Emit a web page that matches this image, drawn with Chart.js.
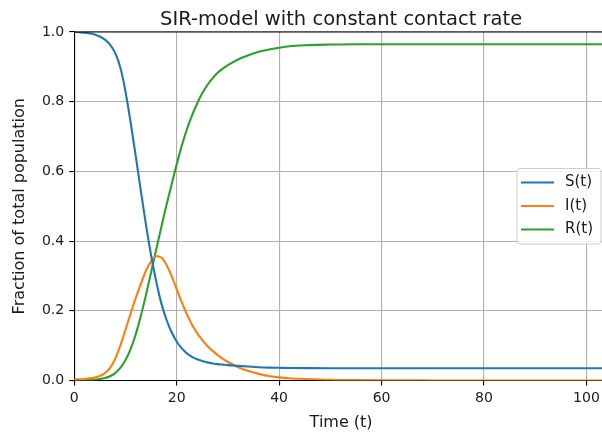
<!DOCTYPE html>
<html>
<head>
<meta charset="utf-8">
<script src="https://cdn.jsdelivr.net/npm/chart.js@4/dist/chart.umd.min.js"></script>
<style>
    html, body { margin: 0; padding: 0; background: #fff; overflow: hidden; }
    #sirPlot { display: block; }
</style>
</head>
<body>
<canvas id="sirPlot" width="610" height="437"></canvas>
<script>
// Time points and compartment fractions
var times = [0, 1, 2, 3, 4, 5, 6, 7, 8, 9, 10, 11, 12, 13, 14, 15, 16, 17, 18, 19, 20,
             21, 22, 23, 24, 25, 26, 27, 28, 29, 30, 32, 34, 36, 38, 40, 42, 45, 50, 55,
             60, 70, 80, 90, 100, 105];
var susceptible = [1.000, 0.9995, 0.998, 0.996, 0.993, 0.987, 0.978, 0.964, 0.940, 0.898, 0.830,
                   0.742, 0.645, 0.545, 0.448, 0.360, 0.285, 0.222, 0.175, 0.139, 0.112,
                   0.092, 0.078, 0.068, 0.061, 0.056, 0.052, 0.049, 0.047, 0.0455, 0.044,
                   0.042, 0.040, 0.038, 0.037, 0.0365, 0.036, 0.0355, 0.035, 0.035,
                   0.035, 0.035, 0.035, 0.035, 0.035, 0.035];
var infected = [0.003, 0.0035, 0.0045, 0.006, 0.0085, 0.013, 0.021, 0.036, 0.062, 0.100, 0.145,
                0.192, 0.236, 0.277, 0.315, 0.342, 0.357, 0.353, 0.332, 0.300, 0.262,
                0.224, 0.190, 0.160, 0.136, 0.116, 0.099, 0.085, 0.073, 0.062, 0.053,
                0.038, 0.027, 0.019, 0.013, 0.009, 0.0065, 0.0045, 0.002, 0.001,
                0.0005, 0.0002, 0.0001, 0, 0, 0];
var recovered = [0, 0.0005, 0.001, 0.0015, 0.0025, 0.004, 0.007, 0.012, 0.021, 0.036, 0.058,
                 0.090, 0.132, 0.185, 0.245, 0.310, 0.376, 0.440, 0.503, 0.562, 0.620,
                 0.674, 0.721, 0.761, 0.795, 0.824, 0.848, 0.867, 0.883, 0.895, 0.905,
                 0.921, 0.933, 0.943, 0.950, 0.955, 0.959, 0.962, 0.964, 0.965,
                 0.965, 0.965, 0.965, 0.965, 0.965, 0.965];

var timeTicks = [0, 20, 40, 60, 80, 100];
var fractionTicks = [0, 0.2, 0.4, 0.6, 0.8, 1.0];

var seriesNames = ['S(t)', 'I(t)', 'R(t)'];
var seriesColors = ['#1f77b4', '#ff7f0e', '#2ca02c'];

var FONT = 'DejaVu Sans';
var TEXT = '#1a1a1a';

function toPoints(values) {
    return times.map(function(t, i) { return {x: t, y: values[i]}; });
}

function makeDataset(idx, values) {
    return {
        label: seriesNames[idx],
        data: toPoints(values),
        borderColor: seriesColors[idx],
        backgroundColor: seriesColors[idx],
        borderWidth: 2.1,
        pointRadius: 0,
        cubicInterpolationMode: 'monotone',
        fill: false
    };
}

function fixedTicks(values) {
    return function(scale) {
        scale.ticks = values.map(function(v) { return {value: v}; });
    };
}

// Top/right spines, title and the boxed legend inside the axes
var framePlugin = {
    id: 'frame',
    afterDatasetsDraw: function(chart) {
        var ctx = chart.ctx;
        var area = chart.chartArea;
        ctx.save();
        ctx.strokeStyle = '#000';
        ctx.lineWidth = 1.1;
        ctx.beginPath();
        ctx.moveTo(area.left, area.top);
        ctx.lineTo(area.right, area.top);
        ctx.lineTo(area.right, area.bottom);
        ctx.stroke();

        // title
        ctx.fillStyle = TEXT;
        ctx.font = '19.5px "' + FONT + '"';
        ctx.textAlign = 'center';
        ctx.textBaseline = 'alphabetic';
        ctx.fillText('SIR-model with constant contact rate', (area.left + area.right) / 2, area.top - 7.5);

        // legend
        var ds = chart.data.datasets;
        ctx.font = '15px "' + FONT + '"';
        var textW = 0;
        ds.forEach(function(d) { textW = Math.max(textW, ctx.measureText(d.label).width); });
        var rowH = 23.5;
        var boxW = 48 + textW + 8;
        var boxH = rowH * ds.length + 5;
        var boxR = area.right - 7;
        var boxL = boxR - boxW;
        var boxT = (area.top + area.bottom) / 2 - boxH / 2;
        ctx.beginPath();
        ctx.roundRect(boxL, boxT, boxW, boxH, 3);
        ctx.fillStyle = 'rgba(255,255,255,0.8)';
        ctx.fill();
        ctx.strokeStyle = '#cccccc';
        ctx.lineWidth = 1;
        ctx.stroke();
        ds.forEach(function(d, i) {
            var y = boxT + 14 + i * rowH;
            ctx.strokeStyle = d.borderColor;
            ctx.lineWidth = 2.1;
            ctx.beginPath();
            ctx.moveTo(boxL + 4, y);
            ctx.lineTo(boxL + 37, y);
            ctx.stroke();
            ctx.fillStyle = TEXT;
            ctx.textAlign = 'left';
            ctx.textBaseline = 'middle';
            ctx.fillText(d.label, boxL + 48, y);
        });
        ctx.restore();
    }
};

var sirChart = new Chart(document.getElementById('sirPlot'), {
    type: 'line',
    data: {
        datasets: [
            makeDataset(0, susceptible),
            makeDataset(1, infected),
            makeDataset(2, recovered)
        ]
    },
    options: {
        responsive: false,
        animation: false,
        layout: { padding: { top: 32, right: 2, left: 0, bottom: 0 } },
        plugins: {
            legend: { display: false },
            tooltip: { enabled: false }
        },
        scales: {
            x: {
                type: 'linear',
                min: 0,
                max: 104.2,
                afterBuildTicks: fixedTicks(timeTicks),
                afterFit: function(scale) { scale.height = 56.5; },
                border: { display: true, color: '#000', width: 1.1 },
                grid: { color: '#b0b0b0', lineWidth: 1.1, tickLength: 5, tickColor: '#000', tickWidth: 1.1 },
                ticks: {
                    padding: 4,
                    color: TEXT,
                    font: { family: FONT, size: 14 },
                    maxRotation: 0,
                    autoSkip: false,
                    callback: function(v) { return String(v); }
                },
                title: {
                    display: true,
                    text: 'Time (t)',
                    color: TEXT,
                    font: { family: FONT, size: 16 },
                    padding: { top: 0, bottom: 5 }
                }
            },
            y: {
                min: 0,
                max: 1,
                afterBuildTicks: fixedTicks(fractionTicks),
                afterFit: function(scale) { scale.width = 74.2; },
                border: { display: true, color: '#000', width: 1.1 },
                grid: { color: '#b0b0b0', lineWidth: 1.1, tickLength: 5, tickColor: '#000', tickWidth: 1.1 },
                ticks: {
                    padding: 5,
                    color: TEXT,
                    font: { family: FONT, size: 14 },
                    autoSkip: false,
                    callback: function(v) { return v.toFixed(1); }
                },
                title: {
                    display: true,
                    text: 'Fraction of total population',
                    color: TEXT,
                    font: { family: FONT, size: 16 },
                    padding: { top: 10, bottom: 0 }
                }
            }
        }
    },
    plugins: [framePlugin]
});
</script>
</body>
</html>
